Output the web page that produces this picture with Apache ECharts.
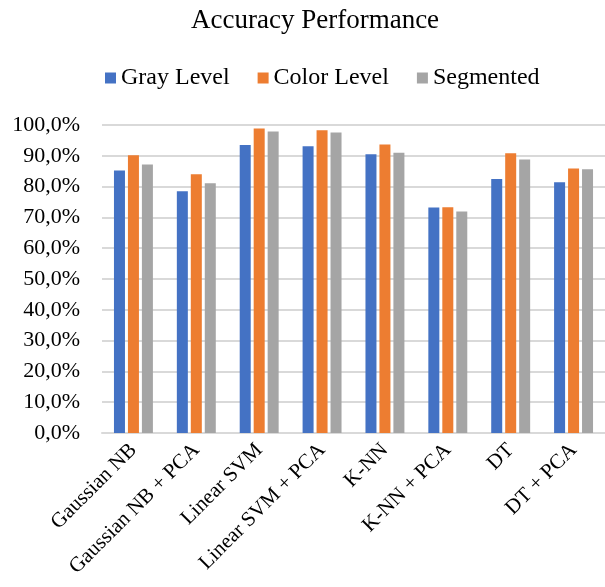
<!DOCTYPE html>
<html>
<head>
<meta charset="utf-8">
<script src="https://cdn.jsdelivr.net/npm/echarts@6/dist/echarts.min.js"></script>
<style>
html, body { margin: 0; padding: 0; background: #fff; }
#chart { width: 605px; height: 587px; }
</style>
</head>
<body>
<div id="chart"></div>
<script>
var categories = ["Gaussian NB", "Gaussian NB + PCA", "Linear SVM", "Linear SVM + PCA", "K-NN", "K-NN + PCA", "DT", "DT + PCA"];
var grayLevel = [85.2, 78.5, 93.5, 93.1, 90.5, 73.2, 82.5, 81.4];
var colorLevel = [90.2, 84.0, 98.9, 98.3, 93.7, 73.3, 90.8, 85.9];
var segmented = [87.2, 81.1, 97.9, 97.6, 91.0, 71.9, 88.8, 85.6];

var font = "'Liberation Serif', 'Times New Roman', serif";
var chart = echarts.init(document.getElementById("chart"));

function pct(v) {
    return v.toFixed(1).replace(".", ",") + "%";
}

chart.setOption({
    animation: false,
    title: {
        text: "Accuracy Performance",
        left: 186,
        top: 2,
        textStyle: {fontFamily: font, fontSize: 27, fontWeight: "normal", color: "#000"}
    },
    legend: {
        top: 61,
        left: 100,
        itemWidth: 11,
        itemHeight: 11,
        itemGap: 28,
        icon: "rect",
        textStyle: {fontFamily: font, fontSize: 24, color: "#000"},
        data: ["Gray Level", "Color Level", "Segmented"]
    },
    grid: {left: 102, top: 125, width: 506, bottom: 154, containLabel: false},
    xAxis: {
        type: "category",
        data: categories,
        axisTick: {show: false},
        axisLine: {lineStyle: {color: "#d9d9d9", width: 2}},
        axisLabel: {
            rotate: 45,
            interval: 0,
            margin: 14,
            fontFamily: font,
            fontSize: 21,
            color: "#000"
        }
    },
    yAxis: {
        type: "value",
        min: 0,
        max: 100,
        interval: 10,
        axisLine: {show: false},
        axisTick: {show: false},
        splitLine: {lineStyle: {color: "#d9d9d9", width: 2}},
        axisLabel: {
            formatter: pct,
            margin: 22,
            fontFamily: font,
            fontSize: 22,
            color: "#000"
        }
    },
    series: [{
        name: "Gray Level",
        type: "bar",
        data: grayLevel,
        barWidth: 11,
        barGap: "27%",
        itemStyle: {color: "#4472c4"}
    }, {
        name: "Color Level",
        type: "bar",
        data: colorLevel,
        barWidth: 11,
        barGap: "27%",
        itemStyle: {color: "#ed7d31"}
    }, {
        name: "Segmented",
        type: "bar",
        data: segmented,
        barWidth: 11,
        barGap: "27%",
        itemStyle: {color: "#a5a5a5"}
    }]
});
</script>
</body>
</html>
